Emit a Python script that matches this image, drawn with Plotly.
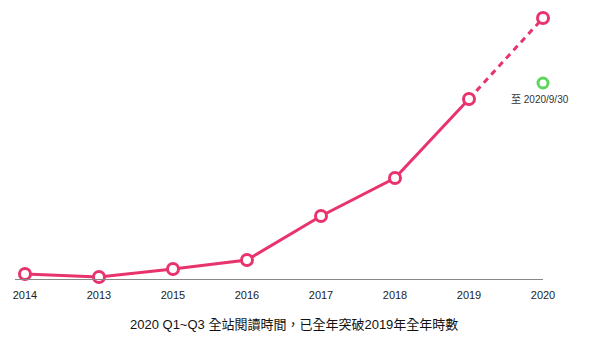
import plotly.graph_objects as go

years = ["2014", "2013", "2015", "2016", "2017", "2018", "2019", "2020"]
reading_time = [5, 2, 10, 19, 63, 101, 180, 261]
partial_label = "至 2020/9/30"
partial_value = 196
title_text = "2020 Q1~Q3 全站閱讀時間，已全年突破2019年全年時數"

pink = "#e8336d"
green = "#5cd65c"
xs = list(range(len(years)))

fig = go.Figure()
# solid part
fig.add_trace(go.Scatter(
    x=xs[:7], y=reading_time[:7], mode="lines",
    line=dict(color=pink, width=3), cliponaxis=False, hoverinfo="skip"))
# dashed part
fig.add_trace(go.Scatter(
    x=xs[6:8], y=reading_time[6:8], mode="lines",
    line=dict(color=pink, width=3, dash="6px,5px"), cliponaxis=False, hoverinfo="skip"))
# markers
fig.add_trace(go.Scatter(
    x=xs, y=reading_time, mode="markers",
    marker=dict(size=11, color="white", line=dict(color=pink, width=3)),
    cliponaxis=False))
# partial-year point
fig.add_trace(go.Scatter(
    x=[xs[-1]], y=[partial_value], mode="markers",
    marker=dict(size=10, color="white", line=dict(color=green, width=3)),
    cliponaxis=False))

fig.update_layout(
    width=600, height=339,
    margin=dict(l=15, r=57, t=10, b=60),
    plot_bgcolor="white", paper_bgcolor="white",
    showlegend=False,
    font=dict(family="Liberation Sans, Noto Sans CJK TC, sans-serif", color="#222"),
    xaxis=dict(
        range=[-0.135, 7], tickvals=xs, ticktext=years,
        showgrid=False, zeroline=False, showline=True,
        linecolor="#888", linewidth=1, ticks="", ticklabelstandoff=6,
        tickfont=dict(size=11, color="#222"), fixedrange=True),
    yaxis=dict(range=[0, 269], visible=False, fixedrange=True),
    annotations=[
        dict(text=title_text, xref="paper", yref="paper",
             x=(294 - 15) / 528, y=-0.17, xanchor="center", yanchor="middle",
             showarrow=False,
             font=dict(size=13, color="#111",
                       family="Liberation Sans, Noto Sans CJK TC, sans-serif")),
        dict(text=partial_label, x=xs[-1], y=partial_value, xref="x", yref="y",
             xanchor="center", yanchor="top", yshift=-9, xshift=-3,
             showarrow=False, font=dict(size=10, color="#333")),
    ],
)

fig.write_html("out.html")
